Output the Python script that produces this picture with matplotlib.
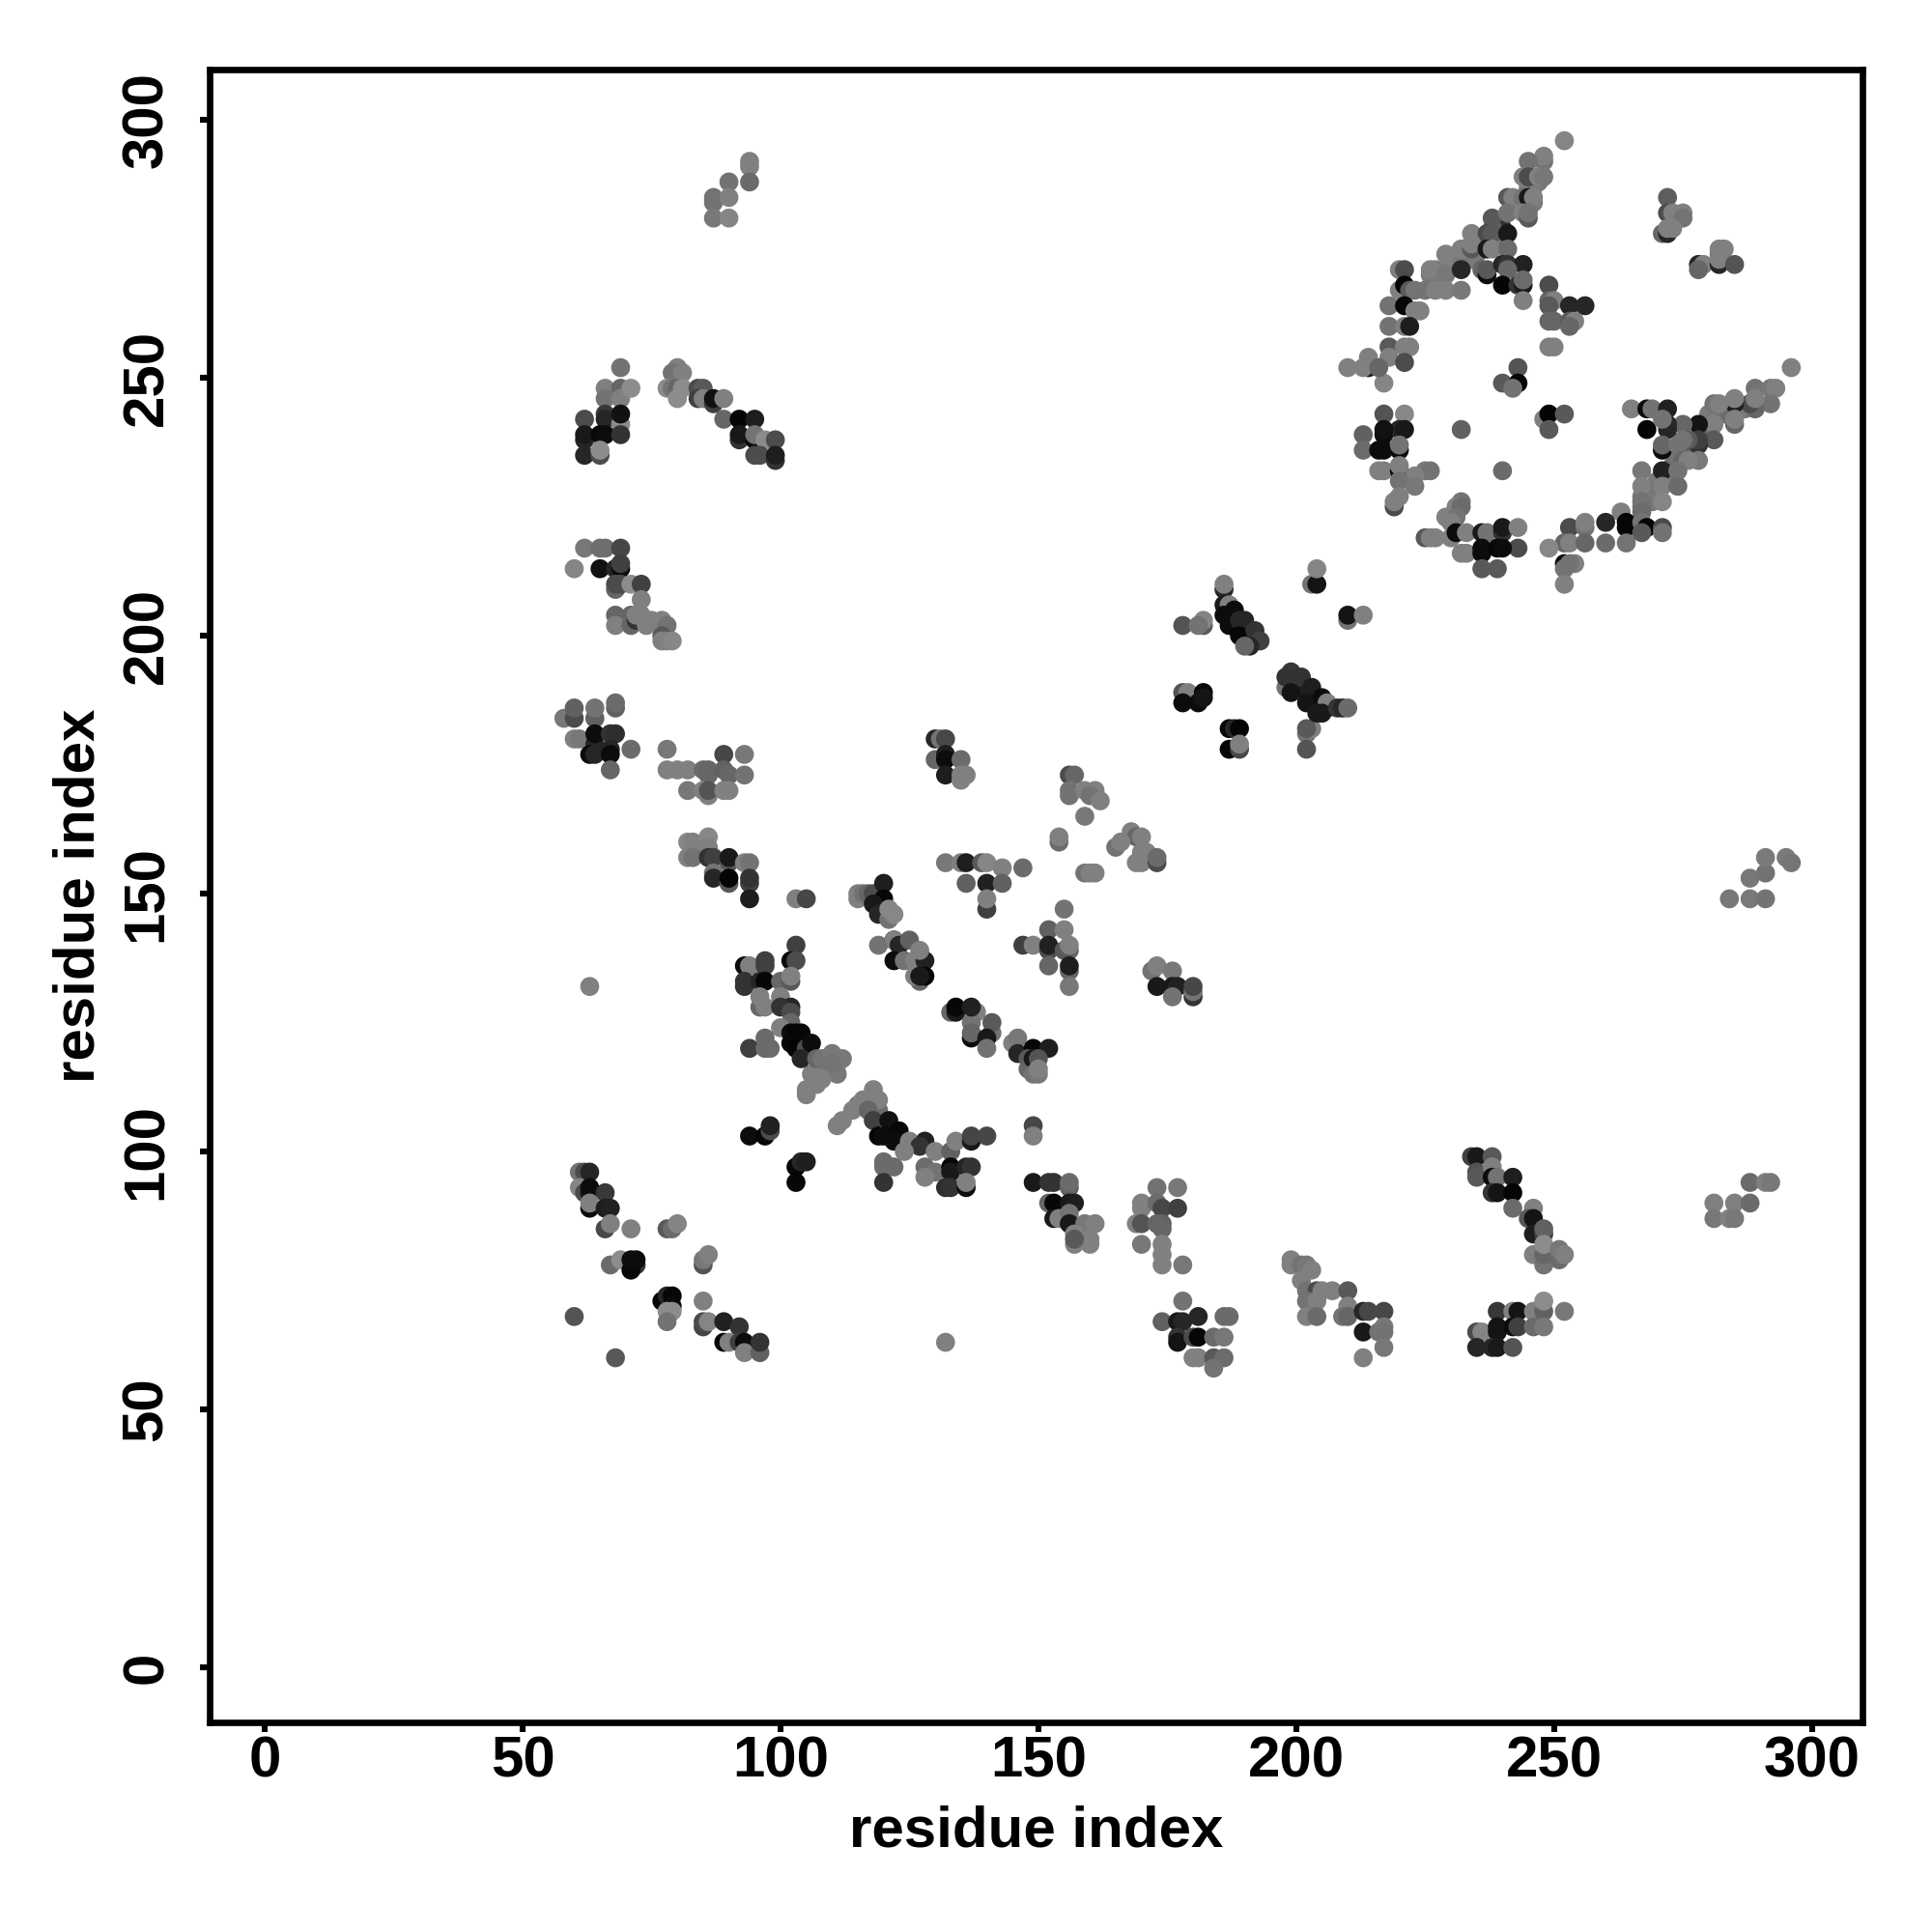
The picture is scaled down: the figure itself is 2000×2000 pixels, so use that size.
import matplotlib
matplotlib.use("Agg")
import matplotlib.pyplot as plt

a_x=[94,94,94,90,87,87,90,87,90]
a_y=[292,291,288,288,285,284,285,281,281]
a_g=[.5,.5,.42,.45,.45,.45,.5,.47,.52]

b_x=[69,66,66,69,69,71,62,66,66,69,69,62,62,65,66,69,62,65,65]
b_y=[252,248,246,248,246,248,242,243,242,241,243,238,239,239,239,239,235,235,236]
b_g=[.45,.5,.45,.4,.5,.55,.3,.22,.15,.55,.07,.15,.1,.03,.05,.2,.15,.3,.55]

c_x=[80,79,81,78,79,80,81,80,84,85,84,85,87,87,89,89,92,95,92,92,95,95,97,99,95,96,99,99]
c_y=[252,251,251,248,248,248,248,246,248,248,246,246,245,246,246,242,242,242,238,239,238,239,238,238,235,235,234,235]
c_g=[.5,.45,.5,.55,.45,.4,.55,.55,.3,.35,.25,.5,.25,.07,.5,.4,.02,.12,.2,.1,.03,.45,.55,.3,.3,.3,.2,.12]

d_x=[62,65,66,69,60,65,68,69,69,68,68,69,71,73,73,68,68,71,71,72,72,73,74,75,74,77,78,77,77,78,79]
d_y=[217,217,217,217,213,213,213,213,214,209,210,210,210,210,207,204,202,204,202,203,204,204,203,203,202,203,202,200,199,199,199]
d_g=[.47,.43,.43,.28,.52,.07,.15,.05,.25,.4,.3,.3,.55,.25,.5,.4,.5,.4,.4,.2,.5,.5,.5,.5,.5,.5,.45,.35,.5,.5,.53]

e_x=[58,60,60,64,64,68,68,60,61,64,64,67,68,63,64,67,67,71,67]
e_y=[184,184,186,184,186,186,187,180,180,179,181,181,181,177,177,178,177,178,174]
e_g=[.47,.3,.38,.38,.45,.38,.42,.5,.47,.15,.05,.2,.18,.05,.15,.15,.05,.42,.4]

f_x=[78,78,80,82,85,86,86,89,89,90,93,93,82,86,85,86,89,90]
f_y=[178,174,174,174,174,173,174,177,174,173,177,173,170,169,170,170,170,170]
f_g=[.47,.5,.5,.5,.42,.4,.4,.28,.38,.4,.47,.45,.47,.5,.5,.33,.5,.5]

h_x=[130,131,132,130,132,132,135,132,135,136,135]
h_y=[180,180,180,176,177,176,176,173,172,173,173]
h_g=[.15,.45,.28,.4,.12,.05,.42,.12,.5,.5,.5]

i_x=[82,83,86,86,82,83,83,86,87,90,90,87,87,90,90,93,94,94,94,94,103,105]
i_y=[160,160,161,159,157,158,157,157,157,156,157,154,153,152,153,156,156,152,153,149,149,149]
i_g=[.53,.5,.53,.5,.5,.5,.45,.2,.25,.35,.1,.45,.15,.35,.02,.5,.45,.25,.2,.12,.5,.28]

j_x=[115,115,116,117,118,120,120,118,119,121,121,122]
j_y=[150,149,150,150,150,152,149,148,146,145,147,146]
j_g=[.5,.5,.45,.4,.3,.12,.03,.1,.15,.45,.53,.53]

k_x=[132,135,136,139,140,143,147,136,140,143,140,140]
k_y=[156,156,156,156,156,155,155,152,152,152,147,149]
k_g=[.47,.5,.12,.35,.52,.5,.42,.38,.13,.38,.25,.5]

l_x=[155,152,155,147,149,152,152,156,155,156,156,156,152,156]
l_y=[147,143,143,140,140,139,140,139,139,140,135,136,136,132]
l_g=[.45,.38,.5,.25,.5,.3,.13,.4,.35,.5,.4,.12,.4,.47]

m_x=[63,93,94,97,97,103,102,103,93,93,96,97,100,102,102,96,97,96,100,102,100,102,102,100]
m_y=[132,136,136,137,136,140,137,137,132,133,133,133,133,133,134,128,128,130,130,128,128,127,125,124]
m_g=[.5,.05,.5,.25,.25,.25,.05,.3,.2,.2,.15,.03,.4,.35,.5,.4,.5,.5,.5,.15,.2,.3,.4,.5]

n_x=[102,103,104,102,103,105,106,104,107,108,110,112,110,108,105,105,94,97,97,98]
n_y=[123,123,123,121,120,120,121,118,118,118,119,118,117,114,111,112,120,122,120,120]
n_g=[.05,.02,.03,.03,.02,.3,.05,.15,.4,.45,.47,.47,.45,.5,.5,.5,.25,.42,.42,.42]

o_x=[119,122,122,123,125,122,124,126,128,127,127,126,128,127]
o_y=[140,141,141,140,141,137,137,137,137,139,133,134,134,134]
o_g=[.45,.1,.5,.15,.38,.05,.45,.5,.13,.5,.4,.5,.02,.1]

p_x=[133,134,134,137,138,137,137,137,141,141,140,140]
p_y=[127,127,128,122,127,125,123,128,123,125,122,120]
p_g=[.4,.1,.03,.05,.5,.45,.4,.13,.45,.35,.1,.45]

q_x=[145,146,146,149,152,148,148,149,150,149,150,150]
q_y=[121,122,119,120,120,118,116,118,118,115,115,116]
q_g=[.5,.47,.15,.03,.12,.35,.4,.1,.33,.45,.47,.5]

r_x=[118,116,119,114,117,112,111,118,121,119,120,123,122,125,128,127,130,124,133,134,137,137,140]
r_y=[112,110,110,108,108,106,105,106,106,103,103,104,102,102,102,101,100,100,100,102,102,103,103]
r_g=[.5,.5,.5,.5,.4,.5,.5,.25,.07,.02,.05,.03,.05,.5,.13,.2,.5,.5,.38,.5,.1,.27,.28]

s_x=[94,97,98,98,103,104,105,103,120,122,120,120]
s_y=[103,103,104,105,97,98,98,94,97,97,98,94]
s_g=[.05,.03,.3,.13,.03,.15,.12,.03,.42,.42,.42,.2]

t_x=[128,130,128,133,133,136,137,132,133,136,136]
t_y=[97,96,95,97,96,97,97,93,93,93,94]
t_g=[.42,.45,.5,.03,.1,.15,.2,.18,.2,.05,.5]

u_x=[149,149,149,152,153,156,156,152,153,156,157,153,154,156,156,159,161,157,160,160,157,157]
u_y=[105,103,94,94,94,93,94,90,90,90,90,87,87,88,86,86,86,84,83,82,82,83]
u_g=[.28,.5,.1,.2,.2,.38,.42,.4,.03,.1,.12,.1,.5,.45,.1,.47,.5,.5,.5,.5,.5,.35]

v_x=[173,177,170,170,173,174,177,169,170,174,173,174,170,174,174,174,178]
v_y=[93,93,90,89,90,89,89,86,86,86,86,85,82,82,80,78,78]
v_g=[.45,.47,.5,.5,.42,.28,.25,.5,.33,.38,.4,.4,.47,.5,.5,.5,.47]

w_x=[178,174,177,178,181,186,187,177,177,180,181,184,186,180,181,184,186,184]
w_y=[71,67,67,67,68,68,68,64,63,64,64,64,64,60,60,60,60,58]
w_g=[.45,.38,.1,.15,.15,.42,.42,.2,.08,.3,.03,.42,.47,.5,.5,.35,.42,.45]

aa_x=[199,199,201,202,203,201,202,204,205,207,210,210,202,204,202,204,209,210,213,214,217,213,216,217,217,217,213]
aa_y=[79,78,78,78,77,75,73,73,73,73,73,70,71,71,68,68,68,68,69,69,69,65,65,66,65,62,60]
aa_g=[.5,.5,.45,.47,.5,.5,.45,.3,.5,.5,.35,.5,.45,.5,.5,.42,.45,.4,.15,.28,.28,.1,.45,.47,.45,.47,.5]

ab_x=[234,235,238,235,235,238,238,239,242,238,239,242,242,246,245,246,246,248,248]
ab_y=[99,99,99,96,95,97,95,95,95,92,92,92,89,89,87,87,84,84,85]
ab_g=[.25,.1,.35,.33,.35,.5,.05,.45,.12,.2,.08,.02,.42,.5,.35,.08,.12,.25,.38]

ac_x=[246,248,248,248,251,251,252,239,242,243,246,248,248,252,235,236,239,239,242,243,246,248,235,238,239,242]
ac_y=[80,78,80,82,79,81,80,69,69,69,69,69,71,69,65,65,65,66,66,66,66,66,62,62,62,62]
ac_g=[.5,.45,.4,.55,.42,.47,.5,.22,.5,.08,.5,.38,.55,.47,.3,.52,.08,.08,.05,.25,.42,.47,.15,.15,.1,.33]

ad_x=[288,291,292,281,285,288,281,284,285]
ad_y=[94,94,94,90,90,90,87,87,87]
ad_g=[.42,.5,.47,.5,.5,.42,.47,.5,.47]

ae_x=[61,62,63,61,62,63,63,66,63,63,66,67,66,67,71,78,79,80]
ae_y=[96,96,96,93,92,92,93,92,89,90,89,89,85,86,85,85,85,86]
ae_g=[.45,.3,.15,.52,.3,.08,.05,.22,.05,.5,.12,.13,.28,.5,.5,.35,.42,.52]

af_x=[67,69,72,71,71,72,85,85,86,77,78,79,79,78,79,78,85,60,85,85,86,89,92,89,90,92,93,93,96,96,68,132]
af_y=[78,79,78,77,79,79,78,79,80,71,72,72,70,69,69,67,71,68,66,67,67,67,66,63,63,63,63,61,61,63,60,63]
af_g=[.42,.55,.2,.03,.05,.05,.33,.47,.5,.03,.15,.03,.05,.55,.55,.45,.5,.33,.28,.3,.52,.13,.2,.03,.5,.25,.05,.5,.38,.2,.35,.5]

ag_x=[186,186,178,182,182,181,186,187,188,186,187,189,190,189,192,193,191,190]
ag_y=[209,210,202,202,203,202,206,206,205,204,202,203,203,200,201,199,198,198]
ag_g=[.15,.5,.33,.35,.52,.45,.1,.5,.05,.05,.05,.15,.15,.03,.2,.25,.15,.4]

ah_x=[203,204,204,210,210,213,178,179,178,181,182,182,187,188,189,187,189,189,202,203,202,202]
ah_y=[210,210,213,203,204,204,189,189,187,187,189,188,182,182,182,178,178,179,181,182,182,178]
ah_g=[.45,.08,.52,.45,.08,.5,.33,.5,.05,.05,.03,.08,.03,.15,.02,.03,.28,.5,.45,.5,.35,.33]

ai_x=[198,199,198,201,199,203,202,205,206,204,205,208,209,210]
ai_y=[190,193,192,192,189,190,187,188,187,185,185,186,186,186]
ai_g=[.45,.22,.2,.2,.08,.12,.08,.05,.5,.1,.1,.2,.15,.42]

aj_x=[156,157,156,156,159,161,160,162,159,154,154,159,160,161]
aj_y=[173,173,170,169,170,170,169,168,165,160,161,154,154,154]
aj_g=[.3,.4,.45,.45,.5,.5,.45,.5,.47,.42,.5,.45,.5,.5]

ak_x=[168,169,170,165,166,170,171,169,170,173,173]
ak_y=[162,161,161,159,160,158,158,156,156,156,157]
ak_g=[.5,.4,.5,.45,.5,.5,.5,.5,.5,.3,.42]

al_x=[172,173,176,173,176,177,176,180,180,180]
al_y=[135,136,135,132,132,132,130,130,131,132]
al_g=[.45,.5,.47,.1,.1,.13,.45,.2,.45,.28]

am_x=[252,248,248,245,244,245,247,248,241,242,244,245,246]
am_y=[296,292,293,292,289,289,289,289,285,285,285,285,285]
am_g=[.52,.45,.5,.45,.5,.3,.5,.47,.35,.5,.45,.1,.5]

an_x=[238,241,244,245,245,234,237,238,241,229,232,234,234,237,238,241]
an_y=[281,282,282,281,282,278,278,278,278,274,275,275,276,275,275,275]
an_g=[.35,.45,.5,.35,.45,.5,.3,.35,.1,.5,.5,.35,.5,.1,.5,.42]

ao_x=[236,237,237,240,241,244,241,226,229,232,220,221]
ao_y=[271,270,271,272,272,272,271,271,270,271,271,271]
ao_g=[.4,.05,.35,.15,.2,.13,.4,.5,.47,.15,.5,.3]

ap_x=[220,221,222,223,225,227,229,232,240,243,244,244,244]
ap_y=[267,268,267,267,267,267,267,267,268,268,268,269,265]
ap_g=[.5,.03,.35,.45,.45,.5,.5,.47,.02,.2,.1,.42,.5]

aq_x=[218,221,223,224,218,221,222,218,218,221,222,221,217,210,214,213,214,216]
aq_y=[264,264,263,263,260,260,260,256,254,256,256,253,249,252,252,252,254,252]
aq_g=[.45,.03,.5,.5,.45,.5,.12,.35,.5,.5,.5,.3,.52,.5,.1,.5,.5,.4]

ar_x=[217,221,217,220,221,213,217,213,216,217,220,220]
ar_y=[243,243,239,240,240,239,240,236,236,236,236,237]
ar_g=[.33,.53,.05,.15,.1,.38,.07,.42,.05,.05,.05,.45]

at_x=[216,217,220,220,225,226,223,220,223,219,219,220]
at_y=[232,232,232,233,232,232,231,230,229,225,226,227]
at_g=[.5,.5,.05,.5,.47,.45,.5,.45,.47,.3,.5,.5]

au_x=[232,231,232,229,231,230,225,226,227,230,231,233,236,237,240,240,243,243]
au_y=[226,225,225,223,223,222,219,219,219,219,220,220,220,220,220,221,221,217]
au_g=[.45,.5,.42,.5,.45,.5,.35,.5,.5,.5,.05,.5,.1,.45,.2,.1,.5,.3]

av_x=[232,233,236,236,239,240,236,239,243,240,243,242,232,240]
av_y=[216,216,217,216,217,217,213,213,252,249,249,248,240,232]
av_g=[.5,.5,.05,.05,.03,.05,.35,.35,.33,.35,.02,.45,.38,.42]

aw_x=[248,249,249,252,249,249,250,249,253,256,249,250,253,254,253,249,250]
aw_y=[242,243,240,243,268,265,265,264,264,264,261,261,261,261,260,256,256]
aw_g=[.5,.02,.35,.35,.3,.4,.5,.35,.15,.15,.4,.4,.35,.5,.4,.5,.5]

ax_x=[272,272,273,275,275,271,272,272,273,278,279,278,282,282,283,282,282,285]
ax_y=[285,282,282,282,281,278,278,279,279,272,272,271,274,275,275,272,273,272]
ax_g=[.37,.3,.5,.5,.45,.4,.15,.5,.5,.15,.5,.4,.45,.5,.5,.15,.5,.33]

ay_x=[296,289,292,293,292,289,288,289,285,285,281,282,285,285,281,278,275,281,278,278,276,278,275]
ay_y=[252,248,248,248,245,244,245,246,245,246,245,245,241,242,241,241,241,238,237,238,238,234,238]
ay_g=[.5,.45,.47,.5,.45,.4,.3,.5,.12,.5,.45,.5,.4,.5,.5,.08,.4,.35,.2,.25,.35,.47,.45]

az_x=[265,268,269,272,272,268,272,271,271,271,274,275,276]
az_y=[244,244,244,244,241,240,240,242,236,237,237,234,234]
az_g=[.5,.05,.45,.13,.15,.02,.15,.45,.05,.4,.45,.4,.5]

ba_x=[267,271,274,267,271,274,267,271,267,263,260,264,264,267,268,271,271,260,264,267]
ba_y=[232,232,232,229,229,229,226,226,224,224,222,222,221,222,221,221,220,218,218,220]
ba_g=[.47,.13,.45,.5,.5,.42,.45,.52,.42,.5,.15,.02,.02,.45,.02,.3,.45,.42,.45,.35]

bb_x=[253,256,256,252,253,256,249,252,254,253,252,252]
bb_y=[221,221,222,218,218,218,217,214,214,214,213,210]
bb_g=[.3,.45,.5,.4,.5,.4,.53,.05,.5,.45,.45,.5]

bc_x=[284,288,291,288,291,291,295,296]
bc_y=[149,149,149,153,154,157,157,156]
bc_g=[.47,.48,.45,.47,.45,.48,.48,.46]

bd_x=[273,274,275,277,273,272,270,270,268,269,267,267,277,276,279,280,283,284,286,287]
bd_y=[233,235,236,235,231,230,230,228,228,226,227,225,236,237,239,243,243,243,244,244]
bd_g=[.42,.45,.4,.45,.45,.47,.48,.48,.45,.47,.47,.45,.42,.38,.4,.48,.45,.42,.47,.48]

be_x=[188,187,189,191,190,192,191,200,201,202,203,204,205,206]
be_y=[203,204,202,200,201,199,199,191,190,189,188,187,186,186]
be_g=[.12,.15,.1,.12,.15,.2,.15,.2,.22,.12,.15,.12,.1,.15]

bf_x=[110,111,109,108,109,106,111,107,117,118,116,117,115,119]
bf_y=[116,117,116,115,118,115,115,113,110,110,109,109,109,108]
bf_g=[.45,.47,.45,.47,.47,.5,.47,.5,.48,.5,.47,.45,.48,.42]

bg_x=[228,227,226,230,230,231,233,235,236,235,234,232,246,247,245,243,244,246,245,238,239,239,240,240,238]
bg_y=[270,271,270,272,273,273,274,275,275,274,273,272,287,288,287,283,283,284,286,277,277,276,276,279,279]
bg_g=[.5,.48,.47,.5,.48,.5,.47,.45,.42,.45,.48,.47,.5,.47,.47,.45,.5,.47,.48,.35,.3,.4,.45,.2,.4]

clusters = [
    (bd_x,bd_y,bd_g),(be_x,be_y,be_g),(bf_x,bf_y,bf_g),(bg_x,bg_y,bg_g),
    (a_x,a_y,a_g),(b_x,b_y,b_g),(c_x,c_y,c_g),(d_x,d_y,d_g),(e_x,e_y,e_g),(f_x,f_y,f_g),
    (h_x,h_y,h_g),(i_x,i_y,i_g),(j_x,j_y,j_g),(k_x,k_y,k_g),(l_x,l_y,l_g),(m_x,m_y,m_g),
    (n_x,n_y,n_g),(o_x,o_y,o_g),(p_x,p_y,p_g),(q_x,q_y,q_g),(r_x,r_y,r_g),(s_x,s_y,s_g),
    (t_x,t_y,t_g),(u_x,u_y,u_g),(v_x,v_y,v_g),(w_x,w_y,w_g),(aa_x,aa_y,aa_g),(ab_x,ab_y,ab_g),
    (ac_x,ac_y,ac_g),(ad_x,ad_y,ad_g),(ae_x,ae_y,ae_g),(af_x,af_y,af_g),(ag_x,ag_y,ag_g),
    (ah_x,ah_y,ah_g),(ai_x,ai_y,ai_g),(aj_x,aj_y,aj_g),(ak_x,ak_y,ak_g),(al_x,al_y,al_g),
    (am_x,am_y,am_g),(an_x,an_y,an_g),(ao_x,ao_y,ao_g),(ap_x,ap_y,ap_g),(aq_x,aq_y,aq_g),
    (ar_x,ar_y,ar_g),(at_x,at_y,at_g),(au_x,au_y,au_g),(av_x,av_y,av_g),(aw_x,aw_y,aw_g),
    (ax_x,ax_y,ax_g),(ay_x,ay_y,ay_g),(az_x,az_y,az_g),(ba_x,ba_y,ba_g),(bb_x,bb_y,bb_g),
    (bc_x,bc_y,bc_g),
]
ticks = [0, 50, 100, 150, 200, 250, 300]
axis_title = "residue index"

plt.rcParams['font.family'] = ['Liberation Sans', 'DejaVu Sans']
plt.rcParams['font.weight'] = 'bold'

fig = plt.figure(figsize=(10, 10), dpi=200)
ax = fig.add_axes([217/2000, 1 - 1783/2000, (1928-217)/2000, (1783-72)/2000])
for cx, cy, cg in clusters:
    ax.scatter(cx, cy, s=50, c=cg, cmap='gray', vmin=0, vmax=1, linewidths=0, zorder=3)

ax.set_xlim(-10.7, 309.8)
ax.set_ylim(-10.7, 309.8)
ax.set_xticks(ticks)
ax.set_yticks(ticks)
ax.set_xticklabels([str(t) for t in ticks], fontsize=21.6, fontweight='bold')
ax.set_yticklabels([str(t) for t in ticks], fontsize=21.6, fontweight='bold',
                   rotation=90, va='center')
ax.tick_params(axis='x', length=3.6, width=2.2, pad=1.4, color='black')
ax.tick_params(axis='y', length=3.6, width=2.2, pad=9.7, color='black')
for sp in ax.spines.values():
    sp.set_linewidth(2.4)
ax.set_xlabel(axis_title, fontsize=21.6, fontweight='bold', labelpad=5.8)
ax.set_ylabel(axis_title, fontsize=21.6, fontweight='bold', labelpad=5.5)
fig.savefig('out.png', dpi=200, facecolor='white')
